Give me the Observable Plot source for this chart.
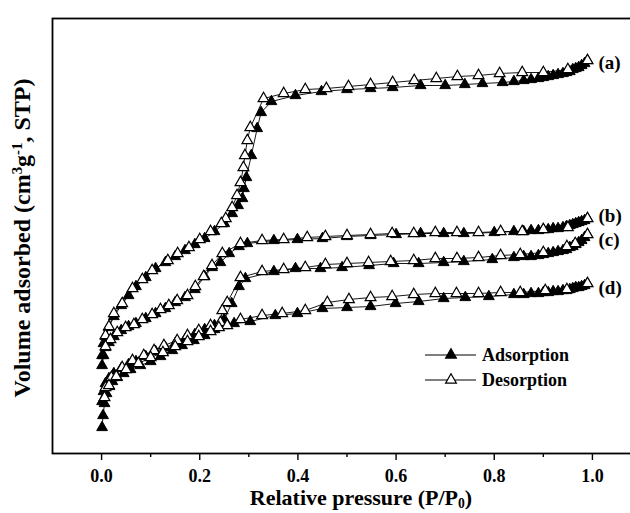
<!DOCTYPE html>
<html><head><meta charset="utf-8">
<script src="https://cdn.jsdelivr.net/npm/d3@7"></script>
<script src="https://cdn.jsdelivr.net/npm/@observablehq/plot@0.6"></script>
<style>
html,body{margin:0;padding:0;background:#fff;overflow:hidden;}
#wrap{position:relative;width:630px;height:513px;overflow:hidden;}
#wrap svg{max-width:none !important;}
.t{position:absolute;font-family:"Liberation Serif",serif;font-weight:bold;color:#000;white-space:nowrap;line-height:1;}
.t sup{font-size:0.62em;vertical-align:0.55em;line-height:0;}
.t sub{font-size:0.62em;vertical-align:-0.25em;line-height:0;}
</style></head><body><div id="wrap"></div>
<script>
// Sample labels
const samples = ["(a)", "(b)", "(c)", "(d)"];
// X axis ticks
const xMajor = [0, 0.2, 0.4, 0.6, 0.8, 1.0];
const xMinor = [0.1, 0.3, 0.5, 0.7, 0.9];

// (a)
const aAdsP = [0.001,0.004,0.008,0.015,0.025,0.04,0.055,0.07,0.09,0.11,0.13,0.15,0.17,0.19,0.21,0.23,0.25,0.266,0.278,0.287,0.29,0.295,0.305,0.317,0.325,0.346,0.395,0.448,0.5,0.548,0.593,0.65,0.7,0.74,0.776,0.817,0.84,0.86,0.875,0.89,0.9,0.91,0.92,0.93,0.94,0.947,0.954,0.96,0.966,0.972,0.978,0.984,0.99];
const aAdsV = [98,110,117,126,137,148,158,167,176,185,191,197,203,209,215,222,230,240,248,255,265,276,298,325,341,352,358,362,364,365,366,368,368,369,370,371,372,373,374,375,376,377,378,379,380,381,382,384,385,386,388,390,393];
const aDesP = [0.99,0.95,0.9,0.857,0.811,0.768,0.725,0.682,0.637,0.593,0.548,0.503,0.458,0.415,0.371,0.33,0.303,0.297,0.292,0.289,0.283,0.276,0.266,0.253,0.244,0.222,0.2,0.178,0.155,0.135,0.103,0.083,0.063,0.042,0.025,0.015,0.008];
const aDesV = [393,384,381,381,380,378,377,375,373,371,369,367,365,364,360,355,326,313,298,286,271,258,246,235,230,222,214,206,200,193,183,174,165,150,140,127,118];
// (b)
const bAdsP = [0.001,0.004,0.008,0.015,0.025,0.04,0.055,0.07,0.09,0.11,0.13,0.15,0.17,0.19,0.21,0.225,0.242,0.26,0.28,0.297,0.351,0.399,0.45,0.5,0.548,0.6,0.65,0.697,0.738,0.8,0.84,0.86,0.875,0.89,0.9,0.91,0.92,0.93,0.94,0.947,0.954,0.96,0.966,0.972,0.978,0.984,0.99];
const bAdsV = [88,98,106,111,117,123,127,130,135,140,145,151,156,164,177,186,191,200,207,210,213,214,215,217,218,219,220,220,220,221,222,222,223,223,224,224,225,225,226,227,228,229,230,231,232,233,235];
const bDesP = [0.99,0.95,0.9,0.857,0.813,0.768,0.724,0.68,0.636,0.592,0.548,0.5,0.456,0.419,0.371,0.327,0.283,0.246,0.225,0.208,0.191,0.175,0.154,0.137,0.12,0.103,0.083,0.066,0.049,0.032,0.018,0.008];
const bDesV = [235,226,224,222,222,221,221,221,220,220,219,218,217,216,214,213,210,200,188,177,167,158,153,148,144,139,134,129,126,121,114,107];
// (c)
const cAdsP = [0.001,0.004,0.008,0.015,0.025,0.04,0.055,0.07,0.09,0.11,0.13,0.15,0.17,0.19,0.21,0.23,0.25,0.265,0.28,0.293,0.351,0.395,0.446,0.49,0.545,0.595,0.646,0.697,0.738,0.796,0.84,0.86,0.875,0.89,0.9,0.91,0.92,0.93,0.94,0.947,0.954,0.96,0.966,0.972,0.978,0.984,0.99];
const cAdsV = [52,62,70,75,80,85,89,92,97,102,106,110,114,119,124,128,134,150,167,175,182,185,185,186,188,190,190,191,192,194,196,197,197,198,199,200,201,202,203,204,206,207,209,211,213,216,219];
const cDesP = [0.99,0.965,0.948,0.9,0.853,0.813,0.768,0.724,0.68,0.636,0.589,0.544,0.5,0.456,0.415,0.371,0.327,0.283,0.256,0.246,0.242,0.222,0.198,0.175,0.154,0.127,0.107,0.086,0.063,0.042,0.02,0.008];
const cDesV = [219,210,207,201,199,198,196,195,195,193,192,191,190,189,186,184,182,176,151,143,131,128,123,118,113,108,103,98,93,86,76,66];
// (d)
const dAdsP = [0.001,0.003,0.006,0.01,0.016,0.022,0.032,0.045,0.059,0.079,0.1,0.12,0.144,0.164,0.188,0.21,0.23,0.25,0.27,0.303,0.354,0.399,0.45,0.5,0.548,0.599,0.646,0.697,0.741,0.789,0.84,0.86,0.875,0.89,0.9,0.91,0.92,0.93,0.94,0.947,0.954,0.96,0.966,0.972,0.978,0.984,0.99];
const dAdsV = [26,38,50,60,67,72,76,80,84,88,92,97,103,108,113,118,124,128,130,132,138,140,145,146,147,150,152,155,156,157,159,159,160,160,161,161,162,162,163,163,164,165,166,166,167,168,170];
const dDesP = [0.99,0.948,0.904,0.853,0.813,0.768,0.723,0.68,0.636,0.592,0.548,0.504,0.46,0.415,0.368,0.327,0.283,0.256,0.239,0.222,0.198,0.175,0.15,0.125,0.1,0.075,0.05,0.03,0.015,0.006];
const dDesV = [170,164,163,161,161,160,160,160,159,157,156,154,151,143,140,138,134,128,126,122,117,112,107,101,96,90,84,77,68,56];

const series = [
  [samples[0], aAdsP, aAdsV, aDesP, aDesV],
  [samples[1], bAdsP, bAdsV, bDesP, bDesV],
  [samples[2], cAdsP, cAdsV, cDesP, cDesV],
  [samples[3], dAdsP, dAdsV, dDesP, dDesV]
];
const rows = [];
for (const [s, ap, av, dp, dv] of series) {
  ap.forEach((p, i) => rows.push({sample: s, branch: "ads", p, v: av[i]}));
  dp.forEach((p, i) => rows.push({sample: s, branch: "des", p, v: dv[i]}));
}
const ends = series.map(([s, ap, av]) => ({text: s, p: ap[ap.length - 1], v: av[av.length - 1]}));
const labelDy = [2, -3, 5, 4];

const chart = Plot.plot({
  width: 645, height: 513,
  marginLeft: 52, marginRight: 4, marginTop: 18, marginBottom: 60,
  x: {domain: [-0.1, 1.1], label: null},
  y: {domain: [0, 435], axis: null},
  style: {fontFamily: "Liberation Serif", fontSize: "18px", fontWeight: "bold", color: "#000", background: "#fff", overflow: "visible"},
  marks: [
    Plot.frame({stroke: "#000", strokeWidth: 1.8}),
    Plot.axisX({ticks: xMinor, tickSize: 4, tickFormat: () => "", strokeWidth: 1.4}),
    Plot.axisX({ticks: xMajor, tickSize: 7, tickPadding: 9, tickFormat: d => d.toFixed(1), strokeWidth: 1.4}),
    Plot.line(rows, {x: "p", y: "v", z: d => d.sample + d.branch, stroke: "#000", strokeWidth: 0.9}),
    Plot.dot(rows.filter(d => d.branch === "ads"), {x: "p", y: "v", symbol: "triangle", r: 4, fill: "#000", stroke: "#000", strokeWidth: 1}),
    Plot.dot(rows.filter(d => d.branch === "des"), {x: "p", y: "v", symbol: "triangle", r: 4, fill: "#fff", stroke: "#000", strokeWidth: 1.2}),
    ...ends.map((e, i) => Plot.text([e], {x: "p", y: "v", text: "text", dx: 11, dy: labelDy[i], textAnchor: "start", fontSize: 19}))
  ]
});
chart.style.maxWidth = "none";
const wrap = document.getElementById("wrap");
wrap.appendChild(chart);

// legend
const svg = d3.select(chart);
const tri = d3.symbol(d3.symbolTriangle, 4 * 4 * Math.PI)();
const lg = svg.append("g").attr("transform", "translate(425,0)");
[["Adsorption", "#000", 355], ["Desorption", "#fff", 380]].forEach(([name, fill, y]) => {
  const g = lg.append("g").attr("transform", `translate(0,${y})`);
  g.append("line").attr("x1", 0).attr("x2", 51).attr("stroke", "#000").attr("stroke-width", 1);
  g.append("path").attr("d", tri).attr("transform", "translate(26,0)").attr("fill", fill).attr("stroke", "#000").attr("stroke-width", 1.2);
  g.append("text").attr("x", 57).attr("dy", "0.35em").attr("text-anchor", "start").attr("font-size", 18).attr("font-weight", "bold").attr("font-family", "Liberation Serif").text(name);
});

// axis titles
const xt = document.createElement("div");
xt.className = "t";
xt.style.cssText = "left:361px;top:487px;font-size:22px;transform:translateX(-50%);";
xt.innerHTML = "Relative pressure (P/P<sub>0</sub>)";
wrap.appendChild(xt);
const yt = document.createElement("div");
yt.className = "t";
yt.style.cssText = "left:22px;top:238px;font-size:24px;transform:translate(-50%,-50%) rotate(-90deg);";
yt.innerHTML = "Volume adsorbed (cm<sup>3</sup>g<sup>-1</sup>, STP)";
wrap.appendChild(yt);
</script></body></html>
